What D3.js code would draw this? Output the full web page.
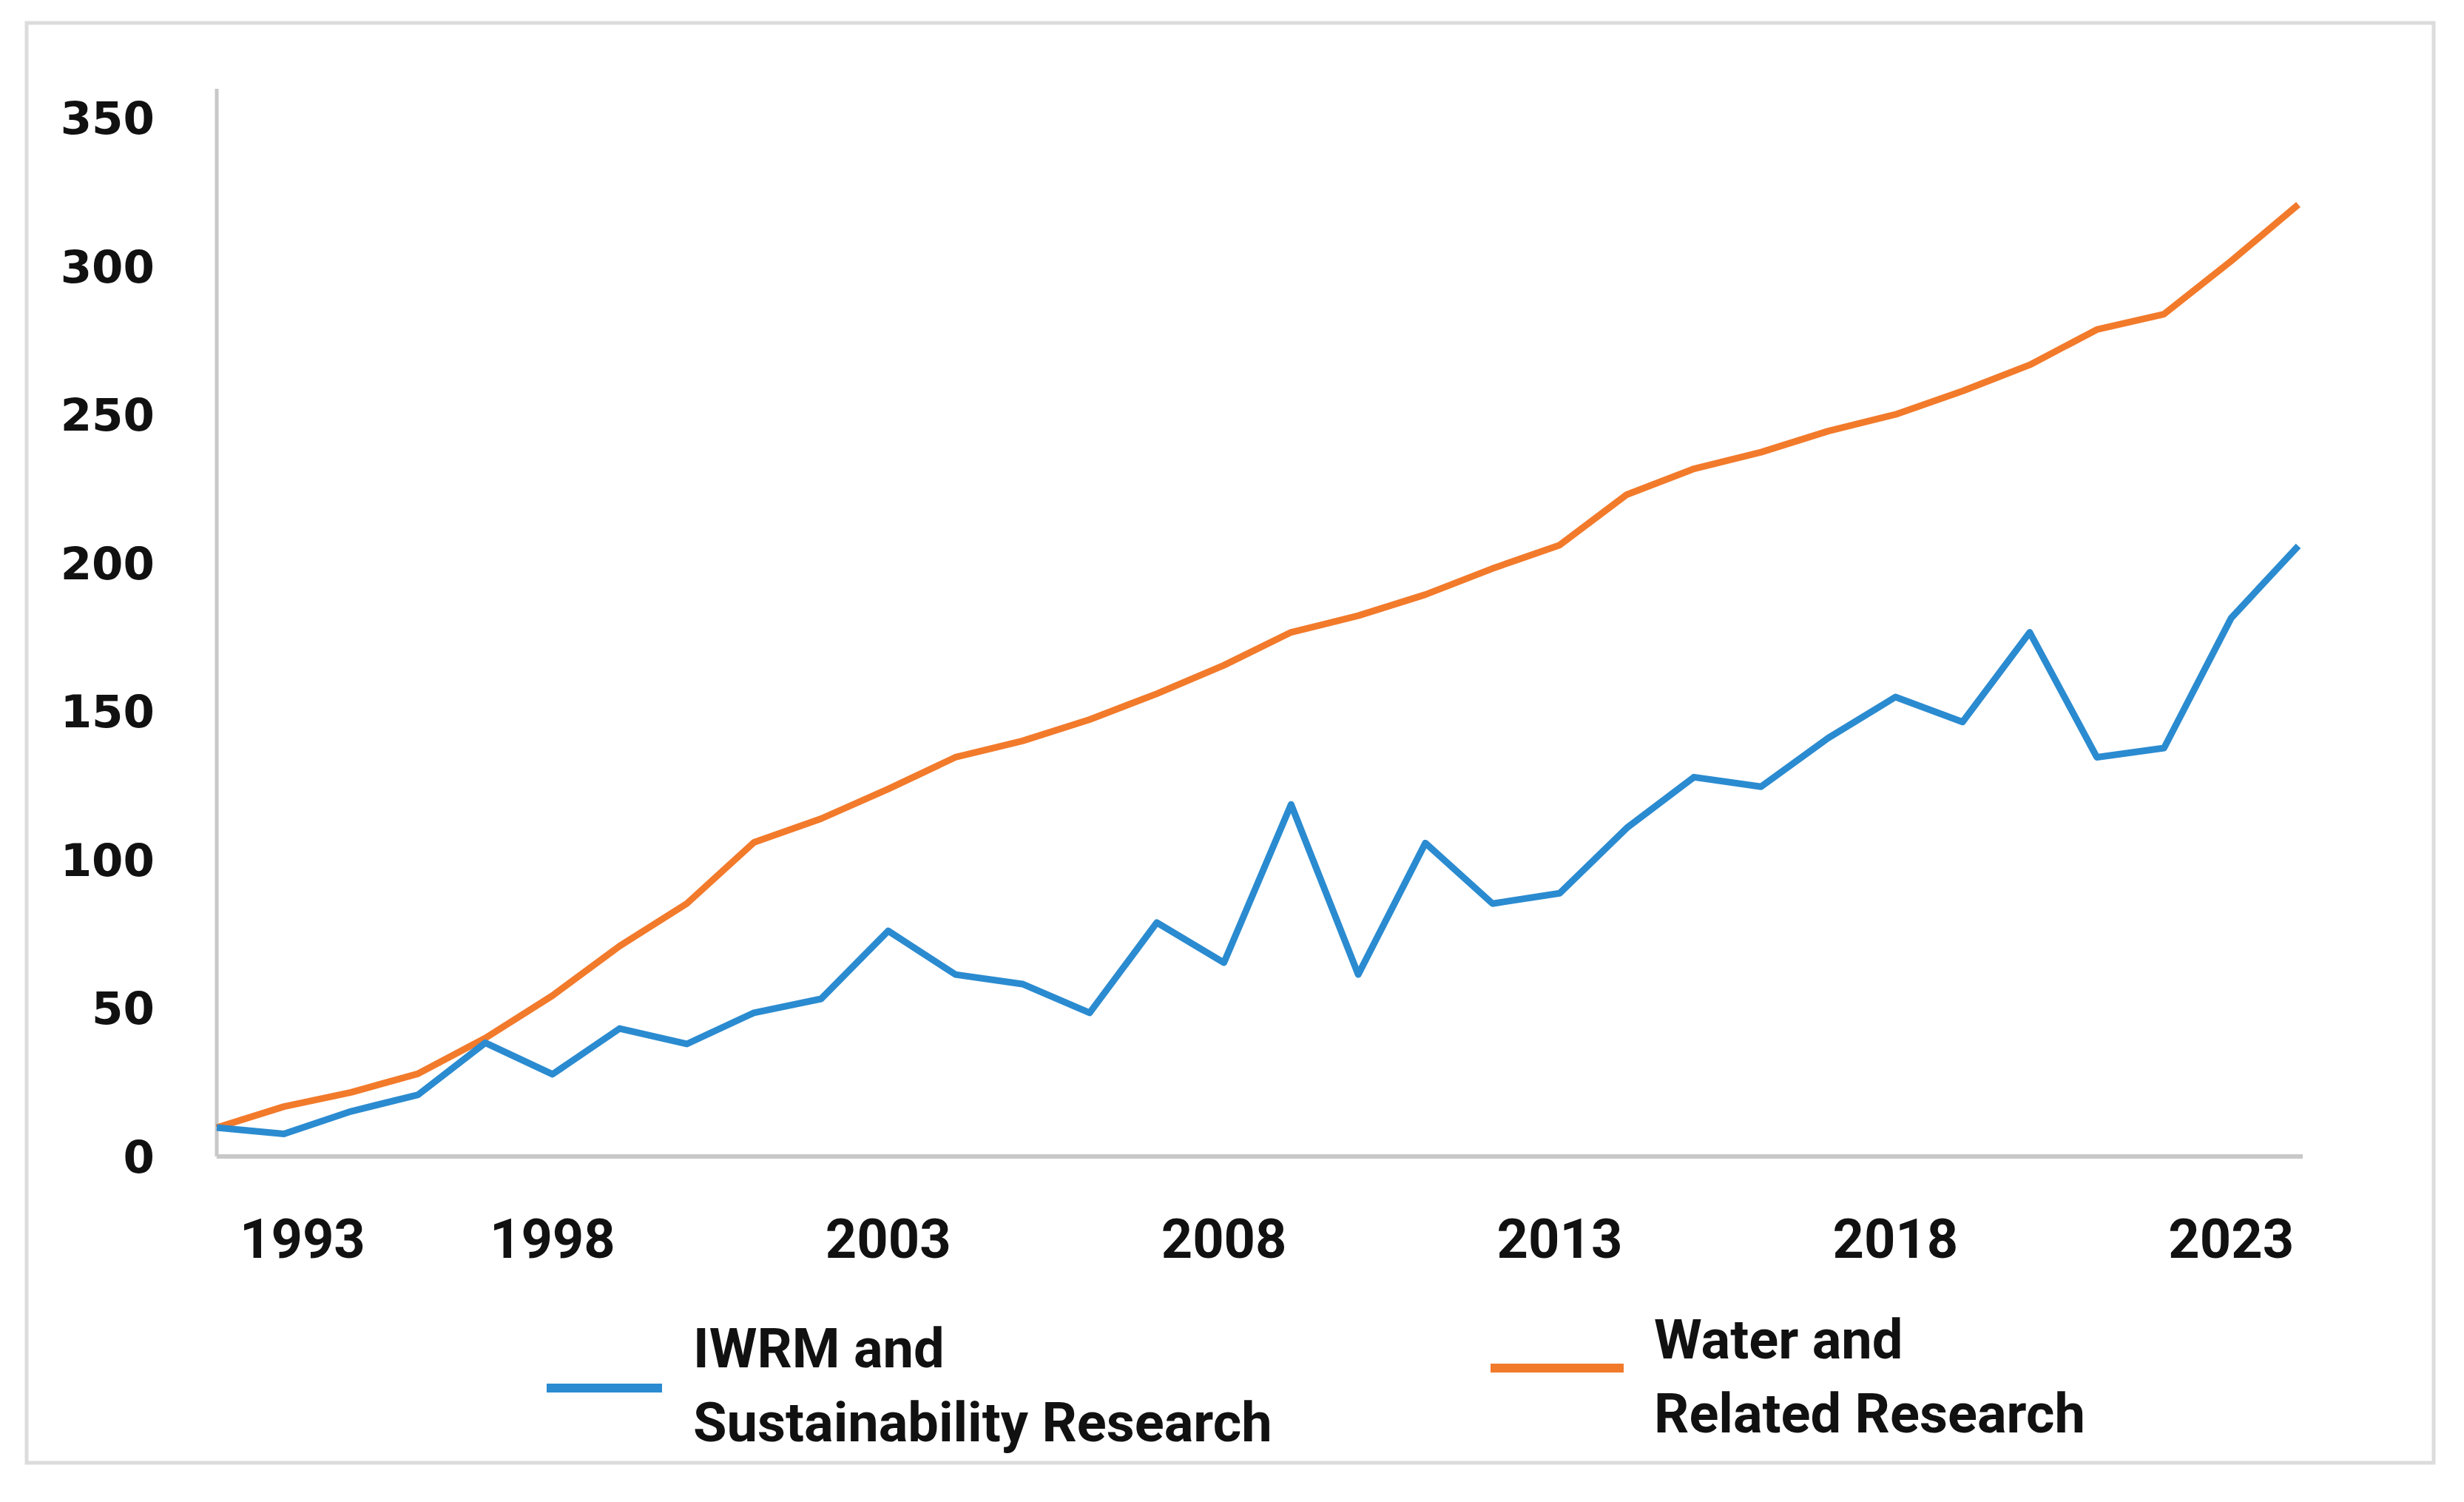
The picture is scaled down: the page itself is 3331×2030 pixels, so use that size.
<!DOCTYPE html>
<html>
<head>
<meta charset="utf-8">
<script src="https://cdn.jsdelivr.net/npm/d3@7"></script>
<style>
  body { margin: 0; background: #ffffff; }
</style>
</head>
<body>
<script>
// data
var years = d3.range(1993, 2025);
var iwrm = [9.7, 7.6, 15.2, 20.8, 38.3, 27.7, 43.1, 37.9, 48.4, 53.1,
            76, 61.3, 58.1, 48.4, 78.8, 65.3, 118.6, 61.3, 105.6, 85.2, 88.7,
            110.7, 127.8, 124.6, 141, 154.8, 146.4, 176.6, 134.5, 137.6, 181.4, 205.7];
var water = [9.7, 16.8, 21.6, 27.9, 39.9, 54.2, 70.9, 85.2, 105.8, 113.8,
             123.8, 134.5, 140, 147.2, 155.9, 165.5, 176.6, 182.2, 189.3, 198.1, 206,
             223, 231.7, 237.3, 244.4, 250, 257.9, 266.7, 278.6, 283.8, 301.7, 320.7];
var yTicks = [0, 50, 100, 150, 200, 250, 300, 350];
var xTicks = [1993, 1998, 2003, 2008, 2013, 2018, 2023];
var seriesNames = [["IWRM and", "Sustainability Research"], ["Water and", "Related Research"]];

var blue_col = "#2b8bd0";
var orange_col = "#f27a2b";
var axis_col = "#c8c8c8";

var W = 3331, H = 2030;

var svg = d3.select("body").append("svg")
  .attr("width", W)
  .attr("height", H)
  .style("display", "block");

// outer frame
svg.append("rect")
  .attr("x", 36).attr("y", 31)
  .attr("width", 3254).attr("height", 1946)
  .attr("fill", "white")
  .attr("stroke", "#dcdcdc")
  .attr("stroke-width", 5);

var x = d3.scaleLinear().domain([1993, 2024]).range([293, 3107]);
var y = d3.scaleLinear().domain([0, 350]).range([1563, 159]);

// axes lines
svg.append("line")
  .attr("x1", 293).attr("x2", 293)
  .attr("y1", 120).attr("y2", y(0))
  .attr("stroke", axis_col).attr("stroke-width", 5);
svg.append("line")
  .attr("x1", 293).attr("x2", 3113)
  .attr("y1", y(0)).attr("y2", y(0))
  .attr("stroke", axis_col).attr("stroke-width", 6);

// y labels
svg.selectAll("text.ylab")
  .data(yTicks)
  .enter().append("text")
  .attr("class", "ylab")
  .attr("x", 209)
  .attr("y", function (d) { return y(d); })
  .attr("dy", "0.36em")
  .attr("text-anchor", "end")
  .style("font", "bold 61px 'DejaVu Sans'")
  .style("fill", "#111")
  .text(function (d) { return d; });

// x labels
svg.selectAll("text.xlab")
  .data(xTicks)
  .enter().append("text")
  .attr("class", "xlab")
  .attr("x", function (d, i) { return i == 0 ? x(d) + 31 : x(d); })
  .attr("y", 1700)
  .attr("text-anchor", function (d, i) { return i == 0 ? "start" : "middle"; })
  .style("font", "bold 74px Roboto")
  .style("fill", "#111")
  .text(function (d) { return d; });

// lines
var line = d3.line()
  .x(function (d) { return x(d[0]); })
  .y(function (d) { return y(d[1]); });

svg.append("path")
  .datum(d3.zip(years, water))
  .attr("d", line)
  .attr("fill", "none")
  .attr("stroke", orange_col)
  .attr("stroke-width", 9)
  .attr("stroke-linejoin", "round");

svg.append("path")
  .datum(d3.zip(years, iwrm))
  .attr("d", line)
  .attr("fill", "none")
  .attr("stroke", blue_col)
  .attr("stroke-width", 9)
  .attr("stroke-linejoin", "round");

// legend
var legend = [
  { col: blue_col, x1: 739, x2: 895, ly: 1876, tx: 937, ty: 1848, name: seriesNames[0] },
  { col: orange_col, x1: 2015, x2: 2195, ly: 1849, tx: 2236, ty: 1836, name: seriesNames[1] }
];

legend.forEach(function (l) {
  svg.append("line")
    .attr("x1", l.x1).attr("x2", l.x2)
    .attr("y1", l.ly).attr("y2", l.ly)
    .attr("stroke", l.col).attr("stroke-width", 12);
  var t = svg.append("text")
    .attr("x", l.tx).attr("y", l.ty)
    .style("font", "bold 74px Roboto")
    .style("fill", "#111");
  l.name.forEach(function (s, i) {
    t.append("tspan")
      .attr("x", l.tx)
      .attr("dy", i == 0 ? 0 : 100)
      .text(s);
  });
});
</script>
</body>
</html>
